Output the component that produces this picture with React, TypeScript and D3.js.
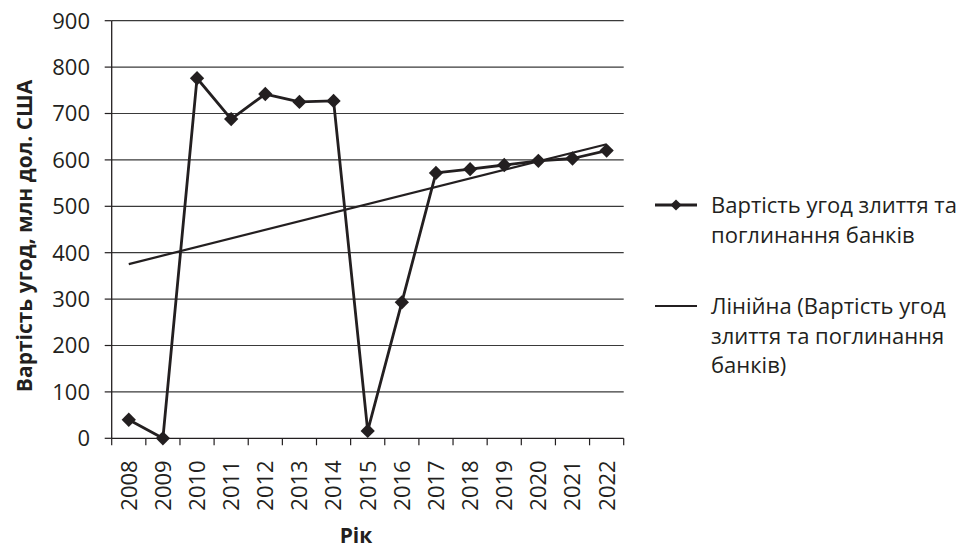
import * as d3 from "d3";
import { useEffect, useRef } from "react";

const years = ["2008", "2009", "2010", "2011", "2012", "2013", "2014", "2015", "2016", "2017", "2018", "2019", "2020", "2021", "2022"];
const dealValues = [40, 0, 776, 688, 742, 725, 727, 16, 293, 572, 580, 589, 598, 603, 620];
const yTicks = [0, 100, 200, 300, 400, 500, 600, 700, 800, 900];
const seriesLabel = ["Вартість угод злиття та", "поглинання банків"];
const trendLabel = ["Лінійна (Вартість угод", "злиття та поглинання", "банків)"];

const INK = "#231f20";
const FONT = "'Open Sans', 'Noto Sans', sans-serif";

export default function App() {
  const ref = useRef<SVGSVGElement>(null);

  useEffect(() => {
    if (!ref.current) return;
    const svg = d3.select(ref.current);
    svg.selectAll("*").remove();

    const left = 111.7;
    const right = 623.7;
    const top = 20.7;
    const bottom = 438.3;

    const x = d3.scaleBand<string>().domain(years).range([left, right]);
    const y = d3.scaleLinear().domain([0, 900]).range([bottom, top]);
    const cx = (d: string) => (x(d) as number) + x.bandwidth() / 2;

    // gridlines
    svg
      .append("g")
      .selectAll("line")
      .data(yTicks.filter((t) => t > 0))
      .join("line")
      .attr("x1", left)
      .attr("x2", right)
      .attr("y1", (d) => y(d))
      .attr("y2", (d) => y(d))
      .attr("stroke", "#3a3a3a")
      .attr("stroke-width", 1.2);

    // y axis
    const yAxis = svg.append("g");
    yAxis
      .append("line")
      .attr("x1", left)
      .attr("x2", left)
      .attr("y1", top)
      .attr("y2", bottom)
      .attr("stroke", INK)
      .attr("stroke-width", 1.3);
    yAxis
      .selectAll("line.tick")
      .data(yTicks)
      .join("line")
      .attr("class", "tick")
      .attr("x1", left - 7)
      .attr("x2", left)
      .attr("y1", (d) => y(d))
      .attr("y2", (d) => y(d))
      .attr("stroke", INK)
      .attr("stroke-width", 1.2);
    yAxis
      .selectAll("text")
      .data(yTicks)
      .join("text")
      .attr("x", 90)
      .attr("y", (d) => y(d))
      .attr("dy", "0.36em")
      .attr("text-anchor", "end")
      .attr("font-family", FONT)
      .attr("font-size", 22)
      .attr("fill", INK)
      .text((d) => d);

    // x axis
    const xAxis = svg.append("g");
    xAxis
      .append("line")
      .attr("x1", left)
      .attr("x2", right)
      .attr("y1", bottom)
      .attr("y2", bottom)
      .attr("stroke", INK)
      .attr("stroke-width", 1.3);
    const edges = [...years.map((d) => x(d) as number), right];
    xAxis
      .selectAll("line.tick")
      .data(edges)
      .join("line")
      .attr("class", "tick")
      .attr("x1", (d) => d)
      .attr("x2", (d) => d)
      .attr("y1", bottom)
      .attr("y2", bottom + 7)
      .attr("stroke", INK)
      .attr("stroke-width", 1.2);
    xAxis
      .selectAll("text")
      .data(years)
      .join("text")
      .attr("transform", (d) => `translate(${cx(d)},${bottom + 22}) rotate(-90)`)
      .attr("dy", "0.36em")
      .attr("text-anchor", "end")
      .attr("font-family", FONT)
      .attr("font-size", 22)
      .attr("fill", INK)
      .text((d) => d);

    // axis titles
    svg
      .append("text")
      .attr("transform", `translate(32,${236}) rotate(-90)`)
      .attr("text-anchor", "middle")
      .attr("font-family", FONT)
      .attr("font-weight", "bold")
      .attr("font-size", 21)
      .attr("fill", INK)
      .text("Вартість угод, млн дол. США");
    svg
      .append("text")
      .attr("x", 356)
      .attr("y", 543)
      .attr("text-anchor", "middle")
      .attr("font-family", FONT)
      .attr("font-weight", "bold")
      .attr("font-size", 21)
      .attr("fill", INK)
      .text("Рік");

    // linear trend (least squares)
    const idx = years.map((_, i) => i);
    const mx = d3.mean(idx) as number;
    const my = d3.mean(dealValues) as number;
    const sxy = d3.sum(idx, (i) => (i - mx) * (dealValues[i] - my));
    const sxx = d3.sum(idx, (i) => (i - mx) ** 2);
    const slope = sxy / sxx;
    const icpt = my - slope * mx;
    const trend = years.map((d, i) => ({ d, v: icpt + slope * i }));
    const lineT = d3
      .line<{ d: string; v: number }>()
      .x((p) => cx(p.d))
      .y((p) => y(p.v));
    svg
      .append("path")
      .attr("d", lineT([trend[0], trend[trend.length - 1]]) as string)
      .attr("fill", "none")
      .attr("stroke", INK)
      .attr("stroke-width", 2.2);

    // series
    const pts = years.map((d, i) => ({ d, v: dealValues[i] }));
    svg
      .append("path")
      .attr("d", lineT(pts) as string)
      .attr("fill", "none")
      .attr("stroke", INK)
      .attr("stroke-width", 2.8)
      .attr("stroke-linejoin", "round");
    const diamond = d3.symbol().type(d3.symbolDiamond2).size(130);
    svg
      .append("g")
      .selectAll("path")
      .data(pts)
      .join("path")
      .attr("transform", (p) => `translate(${cx(p.d)},${y(p.v)})`)
      .attr("d", diamond() as string)
      .attr("fill", INK);

    // legend
    const lg = svg.append("g").attr("font-family", FONT).attr("font-size", 22).attr("fill", INK);
    lg.append("line")
      .attr("x1", 655)
      .attr("x2", 697)
      .attr("y1", 205)
      .attr("y2", 205)
      .attr("stroke", INK)
      .attr("stroke-width", 2.8);
    lg.append("path")
      .attr("transform", "translate(676,205)")
      .attr("d", d3.symbol().type(d3.symbolDiamond2).size(80)() as string)
      .attr("fill", INK);
    lg.selectAll("text.s")
      .data(seriesLabel)
      .join("text")
      .attr("class", "s")
      .attr("x", 711)
      .attr("y", (_, i) => 213 + i * 29.5)
      .text((d) => d);
    lg.append("line")
      .attr("x1", 655)
      .attr("x2", 697)
      .attr("y1", 306)
      .attr("y2", 306)
      .attr("stroke", INK)
      .attr("stroke-width", 2.2);
    lg.selectAll("text.t")
      .data(trendLabel)
      .join("text")
      .attr("class", "t")
      .attr("x", 711)
      .attr("y", (_, i) => 314 + i * 29.5)
      .text((d) => d);
  }, []);

  return (
    <svg
      ref={ref}
      width={964}
      height={551}
      style={{ position: "absolute", left: 0, top: 0, background: "#fff" }}
    />
  );
}
